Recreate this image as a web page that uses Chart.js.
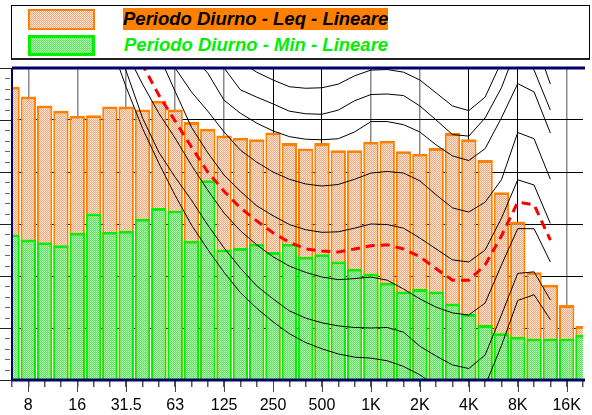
<!DOCTYPE html>
<html>
<head>
<meta charset="utf-8">
<script src="https://cdn.jsdelivr.net/npm/chart.js@4.4.1/dist/chart.umd.min.js"></script>
<style>
    body { margin: 0; background: #fff; }
    #wrap { position: relative; width: 592px; height: 415px; overflow: hidden; }
    #chart { position: absolute; left: 0; top: 0; }
    .legend-box { position: absolute; left: 11px; top: 5px; width: 577px; height: 52px;
        border: 1px solid #000; border-bottom: 2px solid #222; background: #fff; }
    .swatch { position: absolute; left: 16px; width: 67px; height: 21px; box-sizing: border-box; }
    .sw-leq { top: 3px; border: 2px solid #ff8000;
        background: repeating-conic-gradient(#ff9f6e 0 25%, #ffeee4 0 50%) 0 0 / 2px 2px; }
    .sw-min { top: 29px; border: 3px solid #00f000;
        background: repeating-conic-gradient(#44ee44 0 25%, #ccf6cc 0 50%) 0 0 / 2px 2px; }
    .ltext { position: absolute; font: italic bold 18.5px "Liberation Sans", Arial, sans-serif;
        line-height: 22px; height: 22px; white-space: nowrap; }
    .lt-leq { left: 111px; top: 2px; background: #ff8000; color: #000; }
    .lt-min { left: 112px; top: 28px; color: #00f000; }
</style>
</head>
<body>
<div id="wrap">
    <canvas id="chart" width="592" height="415"></canvas>
    <div class="legend-box">
        <div class="swatch sw-leq"></div>
        <span class="ltext lt-leq">Periodo Diurno - Leq - Lineare</span>
        <div class="swatch sw-min"></div>
        <span class="ltext lt-min">Periodo Diurno - Min - Lineare</span>
    </div>
</div>
<script>
// third octave bands, 6.3 Hz .. 20 kHz
var bands = ['6.3', '8', '10', '12.5', '16', '20', '25', '31.5', '40', '50', '63', '80', '100', '125',
    '160', '200', '250', '315', '400', '500', '630', '800', '1K', '1.25K', '1.6K', '2K', '2.5K',
    '3.15K', '4K', '5K', '6.3K', '8K', '10K', '12.5K', '16K', '20K'];
var darkGrid = ['250', '500', '4K', '8K'];

// dB per band
var leqValues = [56.4, 54.5, 52.8, 51.8, 50.8, 50.9, 52.6, 52.6, 52.0, 53.7, 52.0, 49.6, 48.3, 47.0,
    46.6, 46.3, 47.6, 45.6, 44.5, 45.6, 44.2, 44.2, 45.8, 46.0, 44.0, 43.5, 44.6, 47.5, 46.3, 42.3,
    36.1, 30.5, 20.7, 18.3, 14.4, 10.4];
var minValues = [28.0, 27.0, 26.5, 25.9, 28.3, 32.0, 28.5, 28.7, 31.0, 33.1, 32.6, 26.8, 38.4, 25.1,
    25.4, 26.2, 24.6, 26.2, 23.7, 24.2, 22.8, 21.4, 20.5, 18.7, 17.0, 17.5, 17.0, 14.7, 12.7, 10.6,
    9.0, 8.3, 8.0, 8.0, 8.0, 8.7];

// isophone curves, 20 Hz .. 12.5 kHz
var contourFrom = 5;
var threshold = [74.3, 65.0, 56.3, 48.4, 41.7, 35.5, 29.8, 25.1, 20.7, 16.8, 13.8, 11.2, 8.9, 7.2, 6.0,
    5.0, 4.4, 4.2, 3.7, 2.6, 1.0, -1.2, -3.6, -3.9, -1.1, 6.6, 15.3, 16.4, 11.6];
var phon10 = [78, 68, 59.4, 50.4, 43.8, 39.0, 34.6, 29.8, 25.4, 21.5, 18.1, 15.6, 13.3, 11.9, 11.0,
    10.4, 10.1, 10.0, 10.1, 9.2, 6.5, 4.6, 2.9, 2.2, 4.8, 12.5, 20.5, 20.8, 15.4];
var phon20 = [83, 73, 63.1, 56.9, 51.3, 46.5, 41.3, 36.5, 32.1, 28.7, 26.0, 23.7, 21.9, 20.7, 19.8,
    19.3, 19.5, 19.8, 19.2, 17.5, 15.6, 14.0, 12.9, 12.5, 14.8, 22.1, 29.1, 29.1, 22.7];
var phon30 = [92, 84, 76, 68, 62.5, 55.5, 48.6, 43.7, 39.4, 36.3, 33.5, 31.6, 29.9, 28.9, 28.4,
    28.5, 29.2, 30.0, 29.9, 29.2, 27.3, 25.2, 23.1, 22.7, 25.0, 31.1, 38.5, 37.5, 30.1];
var phon40 = [100, 92, 84, 76, 69, 60.0, 55.4, 51.7, 47.7, 44.2, 41.9, 40.0, 38.6, 37.7, 37.3,
    37.6, 38.6, 39.8, 40.1, 39.8, 38.3, 35.6, 33.1, 32.3, 34.2, 38.5, 47.6, 46.4, 38.6];
var phon50 = [106, 98, 90, 82, 75, 68, 62.5, 59.0, 53.8, 51.3, 49.4, 47.9, 46.8, 46.3, 46.2,
    46.4, 47.7, 49.7, 49.7, 49.1, 47.7, 45.2, 43.1, 42.2, 44.5, 50.4, 57.0, 55.4, 47.5];
var phon55 = [110, 102, 94, 87, 80, 73, 66, 63, 60.0, 55.8, 54.4, 53.1, 51.7, 51.2, 51.1,
    51.9, 53.7, 54.9, 55.0, 54.7, 52.7, 50.0, 47.2, 46.9, 50.4, 56.2, 64.4, 59.6, 51.9];
var phon60 = [112, 104, 97, 90, 82, 76, 70, 66, 63, 61.2, 59.2, 57.7, 56.4, 56.1, 56.2,
    56.9, 58.5, 59.6, 59.7, 59.2, 57.7, 55.2, 52.7, 51.8, 54.4, 61.2, 68.3, 65.8, 56.9];
var limitCurve = [79, 72, 66, 60.6, 54.8, 49.8, 44.8, 40.0, 36.3, 33.1, 30.6, 28.3, 26.5, 25.2, 24.8,
    24.6, 25.2, 25.8, 26.0, 25.2, 23.7, 21.4, 19.2, 19.2, 22.1, 27.7, 34.2, 33.7, 26.9];

var yMin = 0, yMax = 60, yStep = 10, yMinor = 2;

Chart.defaults.font.family = '"Liberation Sans", Arial, sans-serif';

function padCurve(values) {
    var out = [];
    for (var i = 0; i < bands.length; i++) {
        var k = i - contourFrom;
        out.push(k >= 0 && k < values.length ? values[k] : null);
    }
    return out;
}

function makePattern(ctx, c1, c2) {
    var p = document.createElement('canvas');
    p.width = 2;
    p.height = 2;
    var g = p.getContext('2d');
    g.fillStyle = c2;
    g.fillRect(0, 0, 2, 2);
    g.fillStyle = c1;
    g.fillRect(0, 0, 1, 1);
    g.fillRect(1, 1, 1, 1);
    return ctx.createPattern(p, 'repeat');
}

function curve(values, color, width, dash) {
    return {
        type: 'line',
        data: padCurve(values),
        borderColor: color,
        borderWidth: width,
        borderDash: dash || [],
        pointRadius: 0,
        tension: 0,
        fill: false,
        order: 0,
        clip: 0
    };
}

// axis ticks outside the plot and the navy frame
var framePlugin = {
    id: 'frame',
    afterDraw: function (chart) {
        var c = chart.ctx, a = chart.chartArea, x = chart.scales.x, y = chart.scales.y;
        c.save();
        c.lineWidth = 1;
        for (var v = yMin; v <= yMax; v += yMinor) {
            var py = Math.round(y.getPixelForValue(v)) + 0.5;
            var major = v % yStep === 0;
            c.strokeStyle = major ? '#222' : '#666';
            c.beginPath();
            c.moveTo(major ? 0 : 5, py);
            c.lineTo(major ? a.left : a.left - 2, py);
            c.stroke();
        }
        c.strokeStyle = '#444';
        for (var i = 1; i < bands.length; i += 3) {
            var px = Math.round(x.getPixelForValue(i)) + 0.5;
            c.beginPath();
            c.moveTo(px, a.bottom);
            c.lineTo(px, a.bottom + 12);
            c.stroke();
        }
        c.strokeStyle = '#000066';
        c.lineWidth = 3;
        c.beginPath();
        c.moveTo(a.left, a.top);
        c.lineTo(a.right + 2, a.top);
        c.moveTo(a.left, a.bottom);
        c.lineTo(a.right + 2, a.bottom);
        c.stroke();
        c.lineWidth = 2;
        c.beginPath();
        c.moveTo(a.left, a.top);
        c.lineTo(a.left, a.bottom);
        c.stroke();
        c.restore();
    }
};

function getChartJs(ctx) {
    var config = {
        type: 'bar',
        data: {
            labels: bands,
            datasets: [
                curve(limitCurve, '#ff0000', 3, [9, 6]),
                curve(threshold, '#000', 1),
                curve(phon10, '#000', 1),
                curve(phon20, '#000', 1),
                curve(phon30, '#000', 1),
                curve(phon40, '#000', 1),
                curve(phon50, '#000', 1),
                curve(phon55, '#000', 1),
                curve(phon60, '#000', 1),
                {
                    label: 'Periodo Diurno - Min - Lineare',
                    data: minValues,
                    backgroundColor: makePattern(ctx, '#44ee44', '#ccf6cc'),
                    borderColor: '#00f000',
                    borderWidth: { top: 3, left: 2, right: 2, bottom: 0 },
                    grouped: false,
                    barPercentage: 0.94,
                    categoryPercentage: 1,
                    order: 1,
                    clip: 0
                }, {
                    label: 'Periodo Diurno - Leq - Lineare',
                    data: leqValues,
                    backgroundColor: makePattern(ctx, '#ff9f6e', '#ffeee4'),
                    borderColor: '#ff8000',
                    borderWidth: { top: 3, left: 2, right: 2, bottom: 0 },
                    grouped: false,
                    barPercentage: 0.94,
                    categoryPercentage: 1,
                    order: 2,
                    clip: 0
                }
            ]
        },
        options: {
            responsive: false,
            animation: false,
            layout: { padding: { top: 68, right: 1, left: 0, bottom: 0 } },
            plugins: { legend: { display: false }, tooltip: { enabled: false } },
            scales: {
                x: {
                    offset: false,
                    grid: {
                        offset: false,
                        drawTicks: true,
                        tickLength: 7,
                        tickColor: '#555',
                        color: function (c) {
                            if (c.index % 3 !== 1) return 'rgba(0,0,0,0)';
                            return darkGrid.indexOf(bands[c.index]) >= 0 ? '#000' : '#8a8a8a';
                        },
                        lineWidth: function (c) {
                            return darkGrid.indexOf(bands[c.index]) >= 0 ? 1 : 1.5;
                        }
                    },
                    border: { display: false },
                    ticks: {
                        autoSkip: false,
                        maxRotation: 0,
                        padding: 9,
                        color: '#000',
                        font: { size: 16 },
                        callback: function (value, index) {
                            return index % 3 === 1 ? bands[index] : '';
                        }
                    },
                    afterFit: function (scale) { scale.height = 35; }
                },
                y: {
                    min: yMin,
                    max: yMax,
                    ticks: { stepSize: yStep, display: false },
                    grid: {
                        drawTicks: false,
                        color: function (c) {
                            var v = c.tick ? c.tick.value : 0;
                            return (v <= yMin || v >= yMax) ? 'rgba(0,0,0,0)' : '#000';
                        }
                    },
                    border: { display: false },
                    afterFit: function (scale) { scale.width = 12; }
                }
            }
        },
        plugins: [framePlugin]
    };
    return config;
}

var ctx = document.getElementById('chart').getContext('2d');
new Chart(ctx, getChartJs(ctx));
</script>
</body>
</html>
